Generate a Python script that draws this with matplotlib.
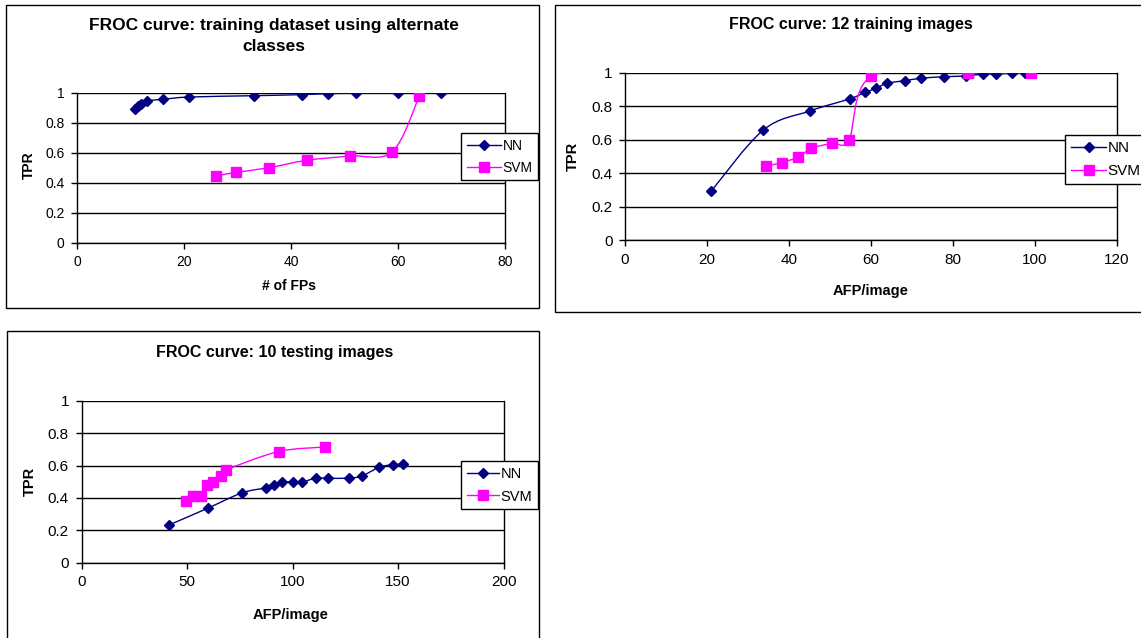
import matplotlib
matplotlib.use("Agg")
import matplotlib.pyplot as plt
from matplotlib.path import Path
from matplotlib.patches import PathPatch, Rectangle
from matplotlib.lines import Line2D
from matplotlib.ticker import FormatStrFormatter

plt.rcParams["font.family"] = ["Liberation Sans", "DejaVu Sans"]

# panel 1: training dataset using alternate classes
p1_nn_x = [10.8, 11.4, 12.0, 13.0, 16.1, 20.9, 33.1, 42.1, 46.9, 52.1, 60.0, 68.1]
p1_nn_y = [0.896, 0.911, 0.929, 0.947, 0.958, 0.973, 0.982, 0.989, 0.996, 0.998, 1.0, 1.0]
p1_svm_x = [25.9, 29.8, 35.9, 42.9, 51.0, 58.9, 64.0]
p1_svm_y = [0.447, 0.471, 0.502, 0.551, 0.580, 0.607, 0.980]

# panel 2: 12 training images
p2_nn_x = [21.0, 33.7, 45.0, 54.9, 58.5, 61.3, 63.8, 68.2, 72.1, 77.8, 83.1, 87.4, 90.5, 94.4, 97.5]
p2_nn_y = [0.292, 0.658, 0.772, 0.846, 0.884, 0.908, 0.938, 0.954, 0.968, 0.978, 0.982, 0.994, 0.992, 1.0, 1.0]
p2_svm_x = [34.5, 38.2, 42.3, 45.4, 50.5, 54.6, 60.1, 83.6, 99.0]
p2_svm_y = [0.442, 0.464, 0.496, 0.548, 0.580, 0.600, 0.980, 1.0, 1.0]

# panel 3: 10 testing images
p3_nn_x = [41.6, 59.8, 76.0, 87.4, 91.4, 94.9, 100.4, 104.7, 111.1, 116.7, 126.6, 132.9, 141.2, 147.8, 152.3]
p3_nn_y = [0.233, 0.336, 0.431, 0.462, 0.478, 0.499, 0.499, 0.499, 0.522, 0.522, 0.522, 0.536, 0.590, 0.606, 0.608]
p3_svm_x = [49.5, 53.0, 56.6, 59.6, 62.1, 65.9, 68.5, 93.4, 115.4]
p3_svm_y = [0.379, 0.414, 0.414, 0.482, 0.499, 0.538, 0.573, 0.687, 0.715]

NN_COLOR = "#000080"
SVM_COLOR = "#FF00FF"
W, H = 1141, 638

fig = plt.figure(figsize=(W / 100, H / 100), dpi=100)
fig.patch.set_facecolor("white")


def fx(x):
    return x / W


def fy(y):
    return 1 - y / H


def add_ax(x0, x1, y0, y1):
    return fig.add_axes([fx(x0), fy(y1), (x1 - x0) / W, (y1 - y0) / H])


def smooth_line(ax, xs, ys, color):
    # Excel-like smoothed line drawn as cubic bezier segments
    pts = list(zip(xs, ys))
    verts = [pts[0]]
    codes = [Path.MOVETO]
    n = len(pts)
    for i in range(n - 1):
        p0 = pts[i - 1] if i > 0 else pts[i]
        p1 = pts[i]
        p2 = pts[i + 1]
        p3 = pts[i + 2] if i + 2 < n else pts[i + 1]
        c1 = (p1[0] + (p2[0] - p0[0]) / 6, p1[1] + (p2[1] - p0[1]) / 6)
        c2 = (p2[0] - (p3[0] - p1[0]) / 6, p2[1] - (p3[1] - p1[1]) / 6)
        verts += [c1, c2, p2]
        codes += [Path.CURVE4] * 3
    ax.add_patch(PathPatch(Path(verts, codes), facecolor="none", edgecolor=color, lw=1.0, zorder=3))


def style_ax(ax, xmax, xstep, tick_fs):
    ax.set_xlim(0, xmax)
    ax.set_ylim(0, 1)
    ax.set_xticks(range(0, xmax + 1, xstep))
    ax.set_yticks([0, 0.2, 0.4, 0.6, 0.8, 1.0])
    ax.yaxis.set_major_formatter(FormatStrFormatter("%g"))
    ax.grid(axis="y", color="black", lw=1.0)
    ax.set_axisbelow(True)
    for side in ["left", "bottom", "right"]:
        ax.spines[side].set_color("black")
        ax.spines[side].set_linewidth(1.0)
    ax.spines["top"].set_visible(False)
    ax.tick_params(direction="out", length=4, width=1, colors="black", labelsize=tick_fs, pad=5)
    ax.tick_params(axis="y", left=True, right=False)
    ax.tick_params(axis="x", top=False)


def draw_series(ax, nx, ny, sx, sy):
    smooth_line(ax, nx, ny, NN_COLOR)
    smooth_line(ax, sx, sy, SVM_COLOR)
    ax.plot(nx, ny, ls="none", marker="D", ms=5, color=NN_COLOR, zorder=4)
    ax.plot(sx, sy, ls="none", marker="s", ms=6.5, color=SVM_COLOR, zorder=4)


def add_frame(x0, x1, y0, y1):
    fig.patches.append(Rectangle((fx(x0), fy(y1)), (x1 - x0) / W, (y1 - y0) / H,
                                 transform=fig.transFigure, fill=False,
                                 edgecolor="black", lw=1.0))


def add_legend(x0, y0, fs, hlen):
    handles = [Line2D([], [], color=NN_COLOR, marker="D", ms=5, lw=1.0),
               Line2D([], [], color=SVM_COLOR, marker="s", ms=6.5, lw=1.0)]
    leg = fig.legend(handles, ["NN", "SVM"], loc="upper left",
                     bbox_to_anchor=(fx(x0), fy(y0)), fontsize=fs,
                     frameon=True, fancybox=False, edgecolor="black",
                     framealpha=1, borderpad=0.4, handlelength=hlen,
                     handletextpad=0.1, labelspacing=0.6, borderaxespad=0)
    leg.get_frame().set_linewidth(1.0)


# frames around each chart
add_frame(6, 539, 5, 308)
add_frame(554.5, 1160, 5, 312)
add_frame(7, 539, 331, 660)

# panel 1
ax1 = add_ax(77, 505, 93, 243)
style_ax(ax1, 80, 20, 10)
draw_series(ax1, p1_nn_x, p1_nn_y, p1_svm_x, p1_svm_y)
fig.text(fx(274), fy(36), "FROC curve: training dataset using alternate\nclasses",
         ha="center", va="center", fontsize=12.5, fontweight="bold", linespacing=1.45)
fig.text(fx(289), fy(286), "# of FPs", ha="center", va="center", fontsize=10, fontweight="bold")
fig.text(fx(29), fy(165), "TPR", ha="center", va="center", rotation=90, fontsize=10, fontweight="bold")
add_legend(461, 133, 10, 2.5)

# panel 2
ax2 = add_ax(625, 1117, 73, 240)
style_ax(ax2, 120, 20, 11)
draw_series(ax2, p2_nn_x, p2_nn_y, p2_svm_x, p2_svm_y)
fig.text(fx(851), fy(25), "FROC curve: 12 training images",
         ha="center", va="center", fontsize=11.5, fontweight="bold")
fig.text(fx(871), fy(291), "AFP/image", ha="center", va="center", fontsize=10.5, fontweight="bold")
fig.text(fx(573), fy(156), "TPR", ha="center", va="center", rotation=90, fontsize=10.5, fontweight="bold")
add_legend(1065, 135, 11, 2.3)

# panel 3
ax3 = add_ax(81.5, 503.5, 401, 562.5)
style_ax(ax3, 200, 50, 11)
draw_series(ax3, p3_nn_x, p3_nn_y, p3_svm_x, p3_svm_y)
fig.text(fx(275), fy(352), "FROC curve: 10 testing images",
         ha="center", va="center", fontsize=11.5, fontweight="bold")
fig.text(fx(291), fy(615), "AFP/image", ha="center", va="center", fontsize=10.5, fontweight="bold")
fig.text(fx(30), fy(481), "TPR", ha="center", va="center", rotation=90, fontsize=10.5, fontweight="bold")
add_legend(461, 461, 10.5, 2.2)

fig.savefig("out.png", dpi=100)
